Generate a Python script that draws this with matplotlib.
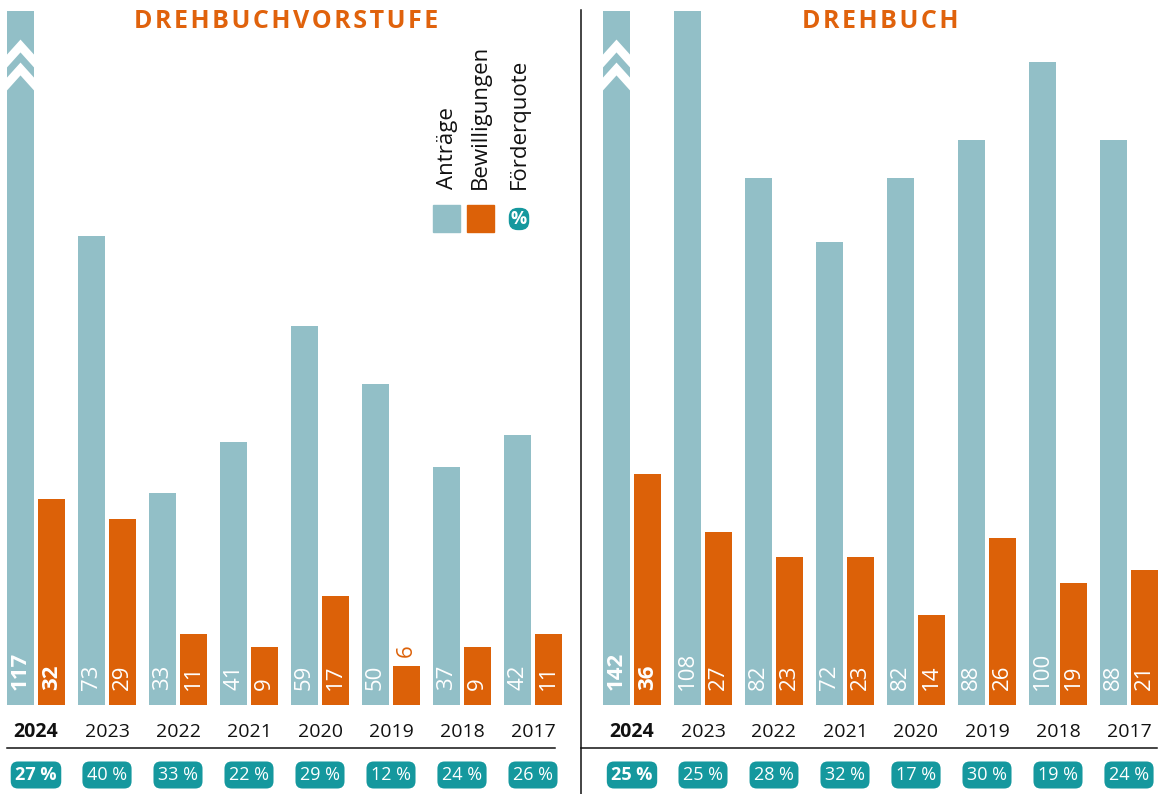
import numpy as np
import matplotlib
matplotlib.use("Agg")
import matplotlib.pyplot as plt
from matplotlib.lines import Line2D
from matplotlib.patches import Rectangle

plt.rcParams['font.family'] = ['Open Sans', 'DejaVu Sans']

years = ['2024', '2023', '2022', '2021', '2020', '2019', '2018', '2017']

# Drehbuchvorstufe
vor_antraege = [117, 73, 33, 41, 59, 50, 37, 42]
vor_bewill = [32, 29, 11, 9, 17, 6, 9, 11]
vor_quote = [27, 40, 33, 22, 29, 12, 24, 26]

# Drehbuch
db_antraege = [142, 108, 82, 72, 82, 88, 100, 88]
db_bewill = [36, 27, 23, 23, 14, 26, 19, 21]
db_quote = [25, 25, 28, 32, 17, 30, 19, 24]

c_antr = '#92bfc7'
c_bew = '#dc6108'
c_teal = '#15989e'
c_title = '#e0620c'

W, H = 1160, 794
fig = plt.figure(figsize=(W / 100, H / 100), dpi=100)

ymax = 108
step = 71.0  # px per group
bw = 27 / step
off = 15.5 / step
px_per_unit = 694 / ymax


def panel(ax, antr, bew, quote, x0px, wpx):
    ax.set_xlim(-x0px / step, (wpx - x0px) / step)
    ax.set_ylim(0, ymax)
    ax.axis('off')
    x = np.arange(len(years))
    b1 = ax.bar(x - off, antr, width=bw, color=c_antr)
    ax.bar(x + off, bew, width=bw, color=c_bew)
    for i in range(len(years)):
        bold = 'bold' if i == 0 else 'normal'
        # value labels
        ax.annotate(str(antr[i]), (x[i] - off, 0), xytext=(0, 11), textcoords='offset points',
                    rotation=90, ha='center', va='bottom', color='white', fontsize=16, fontweight=bold)
        if bew[i] >= 8:
            ax.annotate(str(bew[i]), (x[i] + off, 0), xytext=(0, 11), textcoords='offset points',
                        rotation=90, ha='center', va='bottom', color='white', fontsize=16, fontweight=bold)
        else:
            ax.annotate(str(bew[i]), (x[i] + off, bew[i]), xytext=(0, 7), textcoords='offset points',
                        rotation=90, ha='center', va='bottom', color=c_bew, fontsize=16, fontweight=bold)
        # year labels
        ax.text(x[i], -27 / 694, years[i], transform=ax.get_xaxis_transform(), ha='center', va='center',
                fontsize=14, fontweight=bold, color='#111111', clip_on=False)
        # quota badge
        ax.text(x[i], -70 / 694, f'{quote[i]} %', transform=ax.get_xaxis_transform(), ha='center',
                va='center', fontsize=13, fontweight=bold, color='white', clip_on=False,
                bbox=dict(boxstyle='round,pad=0.25,rounding_size=0.4', fc=c_teal, ec='none'))
        # chevrons on clipped bars
        if antr[i] > ymax:
            rect = b1[i]
            xc = x[i] - off
            for apex_px in (46, 69):
                ya = (694 - apex_px + 11) / px_per_unit
                dy = 15 / px_per_unit
                hw = 13.5 / step
                xs = [xc - 2 * hw, xc, xc + 2 * hw]
                ys = [ya - 2 * dy, ya, ya - 2 * dy]
                ln, = ax.plot(xs, ys, color='white', lw=6.2, solid_joinstyle='miter', solid_capstyle='butt')
                ln.set_clip_path(rect)


ax_l = fig.add_axes([0, (H - 705) / H, 570 / W, 694 / H])
panel(ax_l, vor_antraege, vor_bewill, vor_quote, 36, 570)
ax_r = fig.add_axes([581 / W, (H - 705) / H, 579 / W, 694 / H])
panel(ax_r, db_antraege, db_bewill, db_quote, 51, 579)

# separators
fig.add_artist(Line2D([581 / W, 581 / W], [1 - 10 / H, 0], color='#111111', lw=1.1))
fig.add_artist(Line2D([7 / W, 555 / W], [1 - 748 / H] * 2, color='#111111', lw=1.1))
fig.add_artist(Line2D([581 / W, 1157 / W], [1 - 748 / H] * 2, color='#111111', lw=1.1))

# titles
fig.text(286 / W, 1 - 22 / H, '\u200a'.join('DREHBUCHVORSTUFE'), ha='center', va='center',
         fontsize=18, fontweight='bold', color=c_title)
fig.text(880 / W, 1 - 22 / H, '\u200a'.join('DREHBUCH'), ha='center', va='center',
         fontsize=18, fontweight='bold', color=c_title)

# legend
for lab, xp in [('Anträge', 447), ('Bewilligungen', 480), ('Förderquote', 519)]:
    fig.text(xp / W, 1 - 189 / H, lab, rotation=90, ha='center', va='bottom', fontsize=16, color='#111111')
fig.add_artist(Rectangle((433 / W, 1 - 232 / H), 27 / W, 27 / H, transform=fig.transFigure, color=c_antr))
fig.add_artist(Rectangle((467 / W, 1 - 232 / H), 27 / W, 27 / H, transform=fig.transFigure, color=c_bew))
fig.text(519 / W, 1 - 219 / H, '%', ha='center', va='center', fontsize=13, fontweight='bold', color='white',
         bbox=dict(boxstyle='round,pad=0.12,rounding_size=0.5', fc=c_teal, ec='none'))

fig.savefig('out.png', dpi=100)
